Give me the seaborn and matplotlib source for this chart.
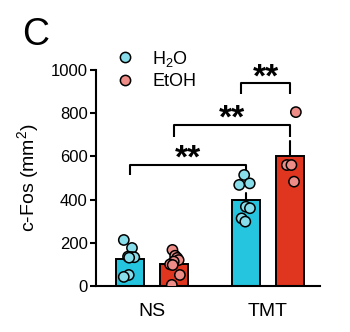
import numpy as np
import pandas as pd
import matplotlib
matplotlib.use("Agg")
import matplotlib.pyplot as plt
import seaborn as sns

# c-Fos counts per animal, by stress condition and drinking group
conditions = ["NS", "TMT"]
drinks = ["H$_2$O", "EtOH"]
ns_h2o = [213, 176, 136, 134, 133, 131, 51, 42]
ns_etoh = [167, 140, 130, 120, 113, 100, 97, 51, 5]
tmt_h2o = [514, 475, 468, 367, 360, 313, 298]
tmt_etoh = [805, 560, 560, 483]
y_ticks = [0, 200, 400, 600, 800, 1000]

bar_colors = ["#25C5DF", "#E0361F"]
point_colors = ["#88DDEB", "#EE8D87"]

groups = {
    ("NS", drinks[0]): ns_h2o,
    ("NS", drinks[1]): ns_etoh,
    ("TMT", drinks[0]): tmt_h2o,
    ("TMT", drinks[1]): tmt_etoh,
}
rows = []
for (cond, drink), vals in groups.items():
    for v in vals:
        rows.append({"condition": cond, "drink": drink, "cfos": v})
df = pd.DataFrame(rows)

sns.set_theme(style="ticks")
plt.rcParams["font.family"] = ["Liberation Sans", "DejaVu Sans"]
plt.rcParams["mathtext.fontset"] = "custom"
plt.rcParams["mathtext.rm"] = "Liberation Sans"
plt.rcParams["mathtext.it"] = "Liberation Sans:italic"
plt.rcParams["mathtext.bf"] = "Liberation Sans:bold"
plt.rcParams["text.color"] = "black"
plt.rcParams["axes.labelcolor"] = "black"

fig = plt.figure(figsize=(3.5, 3.32), dpi=100)
ax = fig.add_axes([0.274, 0.1386, 0.64, 0.6506])

bar_width = 0.76
sns.barplot(data=df, x="condition", y="cfos", hue="drink", order=conditions,
            hue_order=drinks, palette=bar_colors, width=bar_width, gap=0.37,
            errorbar="se", capsize=0, saturation=1, legend=False,
            edgecolor="black", linewidth=1.4,
            err_kws={"color": "black", "linewidth": 1.5, "zorder": 0.9},
            ax=ax)
# fixed seed so the horizontal scatter of the points is reproducible
np.random.seed(7)
sns.stripplot(data=df, x="condition", y="cfos", hue="drink", order=conditions,
              hue_order=drinks, palette=point_colors, dodge=True, jitter=0.1,
              size=7.4, edgecolor="black", linewidth=1.1, zorder=3, ax=ax)

handles, labels = ax.get_legend_handles_labels()
if ax.get_legend() is not None:
    ax.get_legend().remove()
leg = fig.legend(handles, labels, loc="upper left",
                 bbox_to_anchor=(0.337, 0.853), frameon=False,
                 fontsize=13, handlelength=0.8, handletextpad=1.1,
                 labelspacing=0.25, borderpad=0, borderaxespad=0)
for h in leg.legend_handles:
    try:
        h.set_sizes([52])
    except AttributeError:
        pass

ax.set_xlim(-0.483, 1.448)
ax.set_ylim(0, 1000)
ax.set_yticks(y_ticks)
ax.set_xlabel("")
ax.set_ylabel("c-Fos (mm$^2$)", fontsize=14)
ax.yaxis.set_label_coords(-0.245, 0.5)
sns.despine(ax=ax)
for side in ["left", "bottom"]:
    ax.spines[side].set_linewidth(1.5)
    ax.spines[side].set_color("black")
ax.tick_params(axis="y", length=4.5, width=1.5, labelsize=12, pad=1.5,
               colors="black")
ax.tick_params(axis="x", length=0, labelsize=14, pad=12, colors="black")

# significance brackets between dodged bar positions
off = bar_width / 4


def bracket(x0, x1, y, drop0, drop1):
    ax.plot([x0, x0, x1, x1], [y - drop0, y, y, y - drop1], color="black",
            lw=1.5, clip_on=False, solid_capstyle="butt")
    ax.annotate("**", xy=((x0 + x1) / 2, y), xytext=(0, -2), textcoords="offset points",
                ha="center", va="baseline", fontsize=24, fontweight="bold",
                annotation_clip=False)


bracket(0 - off, 1 - off, 560, 46, 46)
bracket(0 + off, 1 + off, 745, 55, 55)
bracket(1 - off - 0.04, 1 + off, 938, 50, 50)

fig.text(0.063, 0.864, "C", fontsize=27, ha="left", va="baseline")

fig.savefig("out.png", dpi=100)
